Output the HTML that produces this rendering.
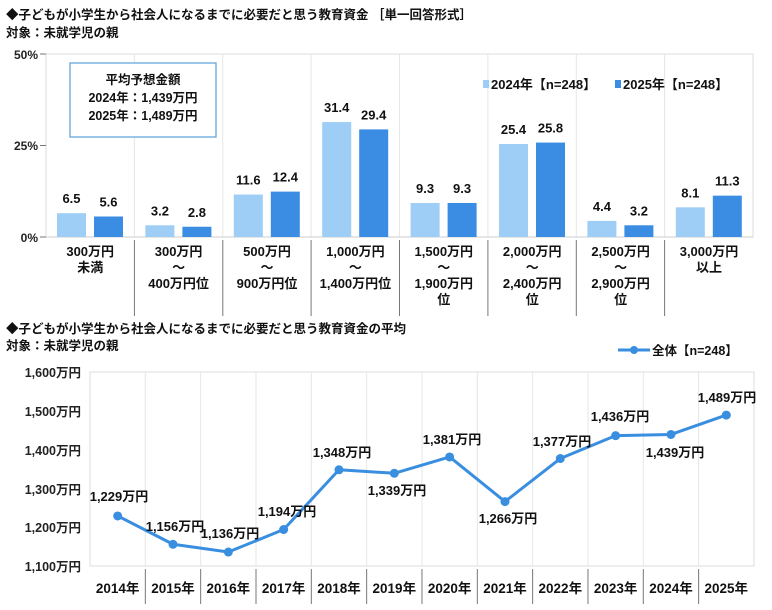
<!DOCTYPE html>
<html><head><meta charset="utf-8"><style>
html,body{margin:0;padding:0;background:#fff;}
svg{display:block;font-family:"Liberation Sans","Noto Sans CJK JP",sans-serif;font-weight:bold;}
</style></head><body>
<svg width="772" height="610" viewBox="0 0 772 610" xmlns="http://www.w3.org/2000/svg">
<g font-size="12.5" fill="#111">
<text x="6" y="19">◆子どもが小学生から社会人になるまでに必要だと思う教育資金 ［単一回答形式］</text>
<text x="6" y="37">対象：未就学児の親</text>
</g>
<rect x="46" y="54" width="707" height="183" fill="none" stroke="#ddd"/>
<g stroke="#e6e6e6">
<line x1="134.4" y1="54" x2="134.4" y2="237"/><line x1="222.8" y1="54" x2="222.8" y2="237"/>
<line x1="311.1" y1="54" x2="311.1" y2="237"/><line x1="399.5" y1="54" x2="399.5" y2="237"/>
<line x1="487.9" y1="54" x2="487.9" y2="237"/><line x1="576.3" y1="54" x2="576.3" y2="237"/>
<line x1="664.6" y1="54" x2="664.6" y2="237"/>
</g>
<g stroke="#777">
<line x1="134.4" y1="240" x2="134.4" y2="316"/><line x1="222.8" y1="240" x2="222.8" y2="316"/>
<line x1="311.1" y1="240" x2="311.1" y2="316"/><line x1="399.5" y1="240" x2="399.5" y2="316"/>
<line x1="487.9" y1="240" x2="487.9" y2="316"/><line x1="576.3" y1="240" x2="576.3" y2="316"/>
<line x1="664.6" y1="240" x2="664.6" y2="316"/>
<line x1="40" y1="54" x2="46" y2="54"/><line x1="40" y1="145.5" x2="46" y2="145.5"/><line x1="40" y1="237" x2="46" y2="237"/>
<line x1="46" y1="237" x2="753" y2="237" stroke="#ccc"/>
</g>
<g font-size="12" fill="#222" text-anchor="end">
<text x="38" y="59">50%</text><text x="38" y="150">25%</text><text x="38" y="242">0%</text>
</g>
<g id="bars"></g>
<rect x="70" y="63" width="146" height="74" fill="#fff" stroke="#5aa0d8" stroke-width="1.2"/>
<g font-size="12.5" fill="#111" text-anchor="middle">
<text x="143" y="84">平均予想金額</text>
<text x="143" y="102">2024年：1,439万円</text>
<text x="143" y="120">2025年：1,489万円</text>
</g>
<rect x="483" y="80" width="6" height="8" fill="#9ecdf6"/>
<text x="491" y="89" font-size="13" fill="#111">2024年【n=248】</text>
<rect x="615" y="80" width="6" height="8" fill="#3a8de2"/>
<text x="623" y="89" font-size="13" fill="#111">2025年【n=248】</text>
<g font-size="12.5" fill="#111">
<text x="6" y="333">◆子どもが小学生から社会人になるまでに必要だと思う教育資金の平均</text>
<text x="6" y="350">対象：未就学児の親</text>
</g>
<line x1="618" y1="350" x2="650" y2="350" stroke="#3a8ee0" stroke-width="3"/>
<circle cx="634" cy="350" r="4" fill="#3a8ee0"/>
<text x="652" y="355" font-size="12.5" fill="#111">全体【n=248】</text>
<rect x="90" y="372" width="664" height="194" fill="none" stroke="#ddd"/>
<g id="vl" stroke="#e6e6e6"></g>
<g id="vd" stroke="#777"></g>
<g font-size="12.5" fill="#222" text-anchor="end">
<text x="81" y="377">1,600万円</text><text x="81" y="416">1,500万円</text><text x="81" y="455">1,400万円</text>
<text x="81" y="494">1,300万円</text><text x="81" y="532">1,200万円</text><text x="81" y="571">1,100万円</text>
</g>
<g id="line"></g>
<g id="cats" font-size="13.5" fill="#111" text-anchor="middle"></g>
</svg>
<script>
var NS="http://www.w3.org/2000/svg";
function el(p,t,a,txt){var e=document.createElementNS(NS,t);for(var k in a)e.setAttribute(k,a[k]);if(txt)e.textContent=txt;document.getElementById(p).appendChild(e);return e;}
var a=[6.5,3.2,11.6,31.4,9.3,25.4,4.4,8.1],b=[5.6,2.8,12.4,29.4,9.3,25.8,3.2,11.3];
var cw=88.4;
var cats=[["300万円","未満"],["300万円","～","400万円位"],["500万円","～","900万円位"],["1,000万円","～","1,400万円位"],["1,500万円","～","1,900万円","位"],["2,000万円","～","2,400万円","位"],["2,500万円","～","2,900万円","位"],["3,000万円","以上"]];
for(var i=0;i<8;i++){var x0=46+i*cw;
var h1=a[i]*3.66,h2=b[i]*3.66;
el("bars","rect",{x:x0+11,y:237-h1,width:29,height:h1,fill:"#9ecdf6"});
el("bars","rect",{x:x0+48,y:237-h2,width:29,height:h2,fill:"#3a8de2"});
el("bars","text",{x:x0+25.5,y:237-h1-10,"font-size":13,"text-anchor":"middle",fill:"#111"},a[i].toFixed(1));
el("bars","text",{x:x0+62.5,y:237-h2-10,"font-size":13,"text-anchor":"middle",fill:"#111"},b[i].toFixed(1));
var c=cats[i];for(var j=0;j<c.length;j++){var yy=[256,272,288,304][j];
el("bars","text",{x:x0+cw/2,y:yy,"font-size":13,"text-anchor":"middle",fill:"#111"},c[j]);}}
var yw=55.33;
var v=[1229,1156,1136,1194,1348,1339,1381,1266,1377,1436,1439,1489];
var pts=[];
for(var i=0;i<12;i++){var x=90+yw*(i+0.5),y=566-(v[i]-1100)*0.388;pts.push(x+","+y);
if(i>0){el("vl","line",{x1:90+yw*i,y1:372,x2:90+yw*i,y2:566});el("vd","line",{x1:90+yw*i,y1:569,x2:90+yw*i,y2:604});}
el("cats","text",{x:x,y:593},(2014+i)+"年");}
el("line","polyline",{points:pts.join(" "),fill:"none",stroke:"#3a8ee0","stroke-width":3,"stroke-linejoin":"round"});
var lab=[[119,501],[175,531],[230,538],[287,516],[342,457],[397,495],[452,444],[508,523],[562,446],[620,421],[675,457],[727,402]];
for(var i=0;i<12;i++){var p=pts[i].split(",");el("line","circle",{cx:p[0],cy:p[1],r:4.5,fill:"#3a8ee0"});
el("line","text",{x:lab[i][0],y:lab[i][1],"font-size":13,"text-anchor":"middle",fill:"#111"},v[i].toLocaleString("en-US")+"万円");}
</script>
</body></html>
